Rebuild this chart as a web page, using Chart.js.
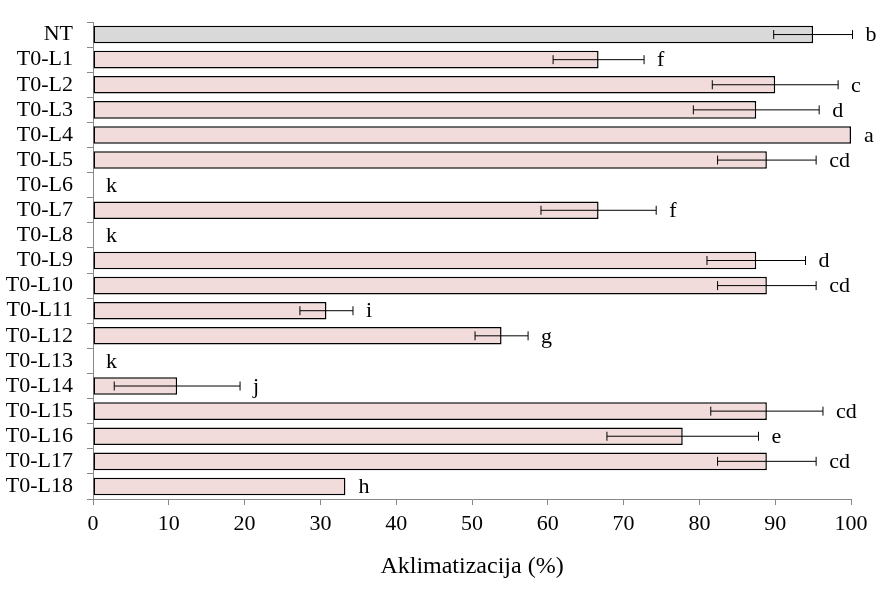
<!DOCTYPE html>
<html>
<head>
<meta charset="utf-8">
<script src="https://cdn.jsdelivr.net/npm/chart.js@4/dist/chart.umd.min.js"></script>
<style>
  html, body { margin: 0; padding: 0; background: #fff; }
</style>
</head>
<body>
<canvas id="aklChart" width="889" height="597"></canvas>
<script>
const categories = ['NT', 'T0-L1', 'T0-L2', 'T0-L3', 'T0-L4', 'T0-L5', 'T0-L6', 'T0-L7', 'T0-L8', 'T0-L9',
    'T0-L10', 'T0-L11', 'T0-L12', 'T0-L13', 'T0-L14', 'T0-L15', 'T0-L16', 'T0-L17', 'T0-L18'];
const values = [95.0, 66.7, 90.0, 87.5, 100, 88.9, 0, 66.7, 0, 87.5,
    88.9, 30.8, 53.9, 0, 11.1, 88.9, 77.8, 88.9, 33.3];
const errors = [5.2, 6.0, 8.3, 8.3, 0, 6.5, 0, 7.6, 0, 6.5,
    6.5, 3.5, 3.5, 0, 8.3, 7.4, 10.0, 6.5, 0];
const letters = ['b', 'f', 'c', 'd', 'a', 'cd', 'k', 'f', 'k', 'd',
    'cd', 'i', 'g', 'k', 'j', 'cd', 'e', 'cd', 'h'];
const xTicks = [0, 10, 20, 30, 40, 50, 60, 70, 80, 90, 100];

const serif = "'Liberation Serif', 'Times New Roman', serif";

// error bars + significance letters
const errorBarPlugin = {
    id: 'errorBars',
    afterDatasetsDraw(chart) {
        const ctx = chart.ctx;
        const xs = chart.scales.x;
        const meta = chart.getDatasetMeta(0);
        ctx.save();
        ctx.strokeStyle = '#000';
        ctx.lineWidth = 1;
        meta.data.forEach((bar, i) => {
            const y = bar.y;
            const err = errors[i];
            if (err > 0) {
                const x1 = xs.getPixelForValue(values[i] - err);
                const x2 = xs.getPixelForValue(values[i] + err);
                ctx.beginPath();
                ctx.moveTo(x1, y);
                ctx.lineTo(x2, y);
                ctx.moveTo(x1, y - 4.5);
                ctx.lineTo(x1, y + 4.5);
                ctx.moveTo(x2, y - 4.5);
                ctx.lineTo(x2, y + 4.5);
                ctx.stroke();
            }
            const end = xs.getPixelForValue(values[i] + err);
            ctx.fillStyle = '#000';
            ctx.font = '22px ' + serif;
            ctx.textAlign = 'left';
            ctx.textBaseline = 'middle';
            ctx.fillText(letters[i], end + 13, y + 1);
        });
        ctx.restore();
    }
};

const ctx = document.getElementById('aklChart').getContext('2d');

new Chart(ctx, {
    type: 'bar',
    data: {
        labels: categories,
        datasets: [{
            data: values,
            backgroundColor: categories.map((c, i) => i === 0 ? '#d9d9d9' : '#f2dcdb'),
            borderColor: '#000',
            borderWidth: 1.5,
            borderSkipped: false,
            barPercentage: 0.7,
            categoryPercentage: 1,
        }],
    },
    options: {
        indexAxis: 'y',
        responsive: false,
        animation: false,
        layout: {
            padding: { left: 0, right: 38, top: 22, bottom: 0 },
        },
        plugins: {
            legend: { display: false },
            tooltip: { enabled: false },
        },
        scales: {
            x: {
                type: 'linear',
                min: 0,
                max: 100,
                afterBuildTicks: (axis) => {
                    axis.ticks = xTicks.map(v => ({ value: v }));
                },
                afterFit: (axis) => { axis.height = 98; },
                grid: {
                    drawOnChartArea: false,
                    drawTicks: true,
                    tickLength: 6,
                    color: '#888',
                },
                border: { color: '#888', width: 1 },
                ticks: {
                    color: '#000',
                    padding: 6,
                    font: { family: serif, size: 22 },
                },
                title: {
                    display: true,
                    text: 'Aklimatizacija (%)',
                    color: '#000',
                    font: { family: serif, size: 24 },
                    padding: { top: 0, bottom: 16 },
                },
            },
            y: {
                type: 'category',
                offset: true,
                afterFit: (axis) => {
                    axis.width = 93;
                    axis.paddingTop = 0;
                    axis.paddingBottom = 0;
                },
                grid: {
                    offset: true,
                    drawOnChartArea: false,
                    drawTicks: true,
                    tickLength: 6,
                    color: '#888',
                },
                border: { color: '#888', width: 1 },
                ticks: {
                    color: '#000',
                    padding: 14,
                    autoSkip: false,
                    font: { family: serif, size: 22 },
                },
            },
        },
    },
    plugins: [errorBarPlugin],
});
</script>
</body>
</html>
